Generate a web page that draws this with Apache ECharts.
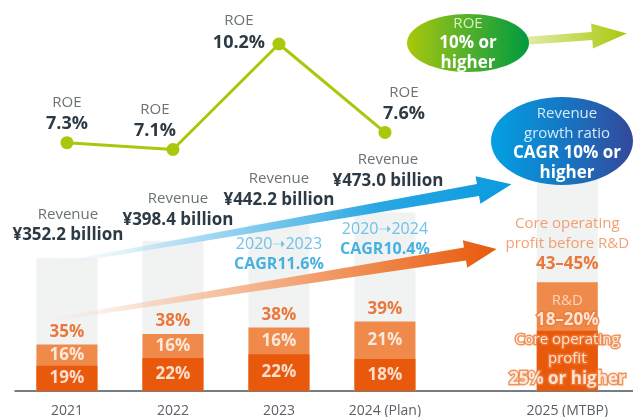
<!DOCTYPE html>
<html><head><meta charset="utf-8">
<script src="https://cdn.jsdelivr.net/npm/echarts@6/dist/echarts.min.js"></script>
<style>html,body{margin:0;padding:0;background:#fff}#c{width:633px;height:417px}</style>
</head><body><div id="c"></div>
<script>
// ---------- data ----------
const categories = ['2021', '2022', '2023', '2024 (Plan)', '2025 (MTBP)'];
const revenue = [352.2, 398.4, 442.2, 473.0, 640]; // 2025 bar height
const revenueLabels = ['¥352.2 billion', '¥398.4 billion', '¥442.2 billion', '¥473.0 billion'];
const coreOpPct = [19, 22, 22, 18, 25];
const rdPct = [16, 16, 16, 21, 20];
const beforeRdPct = [35, 38, 38, 39];
const roe = [7.3, 7.1, 10.2, 7.6];
const cagrPeriod = [null, null, '2020➝2023', '2020➝2024', null];
const cagrValue = [null, null, 'CAGR11.6%', 'CAGR10.4%', null];
const target2025 = { beforeRd: '43–45%', rd: '18–20%', coreOp: '25% or higher' };

// ---------- layout / style ----------
const slots = [0, 1, 2, 3, 4.72];
const FONT = "'Open Sans', 'Noto Sans', sans-serif";
const C = { gray: '#f1f2f2', dark: '#e8590c', light: '#ef8a4a', green: '#a9c80b',
  text: '#2d3a43', sub: '#6b7276', blue: '#1a9fdc', lblue: '#4cb5e6', orangeTxt: '#f08a50' };
const revLabelOffset = [[1, -1], [5, 1], [0, -3], [3, -10]];
const roeLabelOffset = [[0, 0], [-18, 0], [-40, 17], [19, 0]];
const cagrLabelOffset = [null, null, [0, 10], [0, 6], null];

const chart = echarts.init(document.getElementById('c'), null, { renderer: 'canvas' });

const idxOf = v => slots.findIndex(s => Math.abs(s - v) < 1e-6);

function arrowPoly(T, B, headLen, wt, wb, hw) {
  const dx = B[0] - T[0], dy = B[1] - T[1];
  const L = Math.hypot(dx, dy), ux = dx / L, uy = dy / L, nx = -uy, ny = ux;
  const P = [B[0] + ux * headLen, B[1] + uy * headLen];
  return [
    [T[0] + nx * wt / 2, T[1] + ny * wt / 2],
    [B[0] + nx * wb / 2, B[1] + ny * wb / 2],
    [B[0] + nx * hw, B[1] + ny * hw],
    P,
    [B[0] - nx * hw, B[1] - ny * hw],
    [B[0] - nx * wb / 2, B[1] - ny * wb / 2],
    [T[0] - nx * wt / 2, T[1] - ny * wt / 2]
  ];
}
const grad = stops => ({ type: 'linear', x: 0, y: 0, x2: 1, y2: 0,
  colorStops: stops.map(s => ({ offset: s[0], color: s[1] })) });

const whiteBorder = { textBorderColor: '#ee7a36', textBorderWidth: 3 };
const hidden = { itemStyle: { color: 'rgba(0,0,0,0)' }, symbolSize: 1, type: 'scatter', silent: true };

const option = {
  animation: false,
  grid: { left: 15, right: 0, top: 10, bottom: 26, containLabel: false, outerBoundsMode: 'none' },
  xAxis: {
    type: 'value', min: -0.49, max: 5.34,
    axisLine: { show: true, lineStyle: { color: '#4b5258', width: 1.5 } },
    axisTick: { show: false }, splitLine: { show: false },
    axisLabel: { customValues: slots, formatter: v => categories[idxOf(v)] || '',
      color: '#5b6166', fontSize: 14, fontFamily: FONT, margin: 13 }
  },
  yAxis: [
    { type: 'value', min: 0, max: 1010, show: false },
    { type: 'value', min: 0, max: 11.2, show: false }
  ],
  series: [
    { // revenue (grey)
      type: 'bar', name: 'Revenue', barWidth: 61, barGap: '-100%', z: 1,
      itemStyle: { color: C.gray },
      data: revenue.map((v, i) => ({ value: [slots[i], v],
        label: i < 4 ? { show: true, offset: revLabelOffset[i] } : { show: false } })),
      label: { show: true, position: 'top', distance: 11,
        formatter: p => `{a|Revenue}\n{b|${revenueLabels[p.dataIndex]}}`,
        rich: {
          a: { fontFamily: FONT, fontSize: 15, color: C.sub, lineHeight: 21, align: 'center' },
          b: { fontFamily: FONT, fontSize: 17, fontWeight: 'bold', color: C.text, lineHeight: 21, align: 'center' }
        } }
    },
    { // core operating profit before R&D = core + R&D (light, R&D part visible on top)
      type: 'bar', name: 'R&D', barWidth: 61, barGap: '-100%', z: 2,
      itemStyle: { color: C.light },
      data: revenue.map((v, i) => [slots[i], v * (coreOpPct[i] + rdPct[i]) / 100])
    },
    { // core operating profit (dark)
      type: 'bar', name: 'Core operating profit', barWidth: 61, barGap: '-100%', z: 2,
      itemStyle: { color: C.dark },
      data: revenue.map((v, i) => [slots[i], v * coreOpPct[i] / 100])
    },
    Object.assign({}, hidden, { // core op label at middle of dark segment
      name: 'coreLbl', z: 4,
      data: revenue.map((v, i) => ({ value: [slots[i], v * coreOpPct[i] / 200],
        label: i === 4 ? { offset: [0, -1] } : {} })),
      label: { show: true, position: 'inside',
        formatter: p => p.dataIndex < 4 ? `{n|${coreOpPct[p.dataIndex]}%}`
          : `{a|Core operating}\n{a|profit}\n{b|${target2025.coreOp}}`,
        rich: {
          n: { fontFamily: FONT, fontSize: 17, fontWeight: 'bold', color: '#fff' },
          a: Object.assign({ fontFamily: FONT, fontSize: 15, color: '#fff', lineHeight: 19, align: 'center' }, whiteBorder),
          b: Object.assign({ fontFamily: FONT, fontSize: 17, fontWeight: 'bold', color: '#fff', lineHeight: 21, align: 'center' }, whiteBorder)
        } }
    }),
    Object.assign({}, hidden, { // R&D label at middle of light segment
      name: 'rdLbl', z: 4,
      data: revenue.map((v, i) => ({ value: [slots[i], v * (coreOpPct[i] + rdPct[i] / 2) / 100],
        label: i === 4 ? { offset: [0, 4] } : {} })),
      label: { show: true, position: 'inside',
        formatter: p => p.dataIndex < 4 ? `{n|${rdPct[p.dataIndex]}%}`
          : `{a|R&D}\n{b|${target2025.rd}}`,
        rich: {
          n: { fontFamily: FONT, fontSize: 17, fontWeight: 'bold', color: '#fff' },
          a: { fontFamily: FONT, fontSize: 15, color: '#fde3d2', lineHeight: 20, align: 'center' },
          b: Object.assign({ fontFamily: FONT, fontSize: 17, fontWeight: 'bold', color: '#fff', lineHeight: 20, align: 'center' }, whiteBorder)
        } }
    }),
    Object.assign({}, hidden, { // before-R&D label on top of stack
      name: 'beforeRdLbl', z: 3,
      data: revenue.map((v, i) => ({ value: [slots[i], v * (coreOpPct[i] + rdPct[i]) / 100],
        label: i === 4 ? { distance: 8 } : {} })),
      label: { show: true, position: 'top', distance: 2,
        formatter: p => p.dataIndex < 4 ? `{n|${beforeRdPct[p.dataIndex]}%}`
          : `{a|Core operating}\n{a|profit before R&D}\n{n|${target2025.beforeRd}}`,
        rich: {
          n: { fontFamily: FONT, fontSize: 17, fontWeight: 'bold', color: C.dark, lineHeight: 20, align: 'center' },
          a: { fontFamily: FONT, fontSize: 15, color: C.orangeTxt, lineHeight: 20, align: 'center' }
        } }
    }),
    Object.assign({}, hidden, { // CAGR annotations
      name: 'CAGR', z: 3,
      data: revenue.map((v, i) => ({ value: [slots[i], v],
        label: cagrPeriod[i] ? { show: true, offset: cagrLabelOffset[i] } : { show: false } })),
      label: { show: true, position: 'bottom', distance: 0,
        formatter: p => `{a|${cagrPeriod[p.dataIndex]}}\n{b|${cagrValue[p.dataIndex]}}`,
        rich: {
          a: { fontFamily: FONT, fontSize: 16, color: C.lblue, lineHeight: 20, align: 'center' },
          b: { fontFamily: FONT, fontSize: 16, fontWeight: 'bold', color: C.blue, lineHeight: 20, align: 'center' }
        } }
    }),
    { // ROE
      type: 'line', name: 'ROE', yAxisIndex: 1, z: 4,
      symbol: 'circle', symbolSize: 13,
      lineStyle: { color: C.green, width: 3 }, itemStyle: { color: C.green },
      data: roe.map((v, i) => ({ value: [slots[i], v], label: { offset: roeLabelOffset[i] } })),
      label: { show: true, position: 'top', distance: 1,
        formatter: p => `{a|ROE}\n{b|${roe[p.dataIndex]}%}`,
        rich: {
          a: { fontFamily: FONT, fontSize: 15, color: C.sub, lineHeight: 21, align: 'center' },
          b: { fontFamily: FONT, fontSize: 18, fontWeight: 'bold', color: C.text, lineHeight: 22, align: 'center' }
        } }
    }
  ],
  graphic: [
    { type: 'polygon', z: 5, shape: { points: arrowPoly([60, 263], [478, 190], 34, 3, 12, 14) },
      style: { fill: grad([[0, 'rgba(200,232,248,0)'], [0.3, 'rgba(160,215,242,0.9)'], [0.7, '#2aa7e3'], [1, '#0b9ae0']]) } },
    { type: 'polygon', z: 5, shape: { points: arrowPoly([48, 320], [465, 254], 32, 3, 13, 14) },
      style: { fill: grad([[0, 'rgba(250,215,195,0)'], [0.3, 'rgba(247,200,172,0.9)'], [0.7, '#f08c50'], [1, '#e8590c']]) } },
    { type: 'polygon', z: 5, shape: { points: arrowPoly([524, 41], [592, 36], 35, 8, 8, 12.5) },
      style: { fill: grad([[0, '#e3edaa'], [1, '#a9c80b']]) } },
    { type: 'ellipse', z: 6, shape: { cx: 468, cy: 43, rx: 61, ry: 29 },
      style: { fill: grad([[0, '#aac70c'], [0.5, '#52b02c'], [1, '#009a3e']]) } },
    { type: 'text', z: 7, left: 468 - 60, top: 16,
      style: { text: '{a|ROE}\n{b|10% or}\n{b|higher}', width: 120, align: 'center',
        rich: {
          a: { fontFamily: FONT, fontSize: 15, fill: '#dcefc0', lineHeight: 20, align: 'center', width: 120 },
          b: { fontFamily: FONT, fontSize: 17, fontWeight: 'bold', fill: '#ffffff', lineHeight: 20, align: 'center', width: 120 }
        } } },
    { type: 'ellipse', z: 6, shape: { cx: 562, cy: 141, rx: 71, ry: 44 },
      style: { fill: grad([[0, '#03a0e3'], [0.5, '#1578c4'], [1, '#34489a']]) } },
    { type: 'text', z: 7, left: 567 - 70, top: 106,
      style: { text: '{a|Revenue}\n{a|growth ratio}\n{b|CAGR 10% or}\n{b|higher}', width: 140, align: 'center',
        rich: {
          a: { fontFamily: FONT, fontSize: 15, fill: '#d4ebf9', lineHeight: 20, align: 'center', width: 140 },
          b: { fontFamily: FONT, fontSize: 17, fontWeight: 'bold', fill: '#ffffff', lineHeight: 20, align: 'center', width: 140 }
        } } }
  ]
};
chart.setOption(option);
</script></body></html>
